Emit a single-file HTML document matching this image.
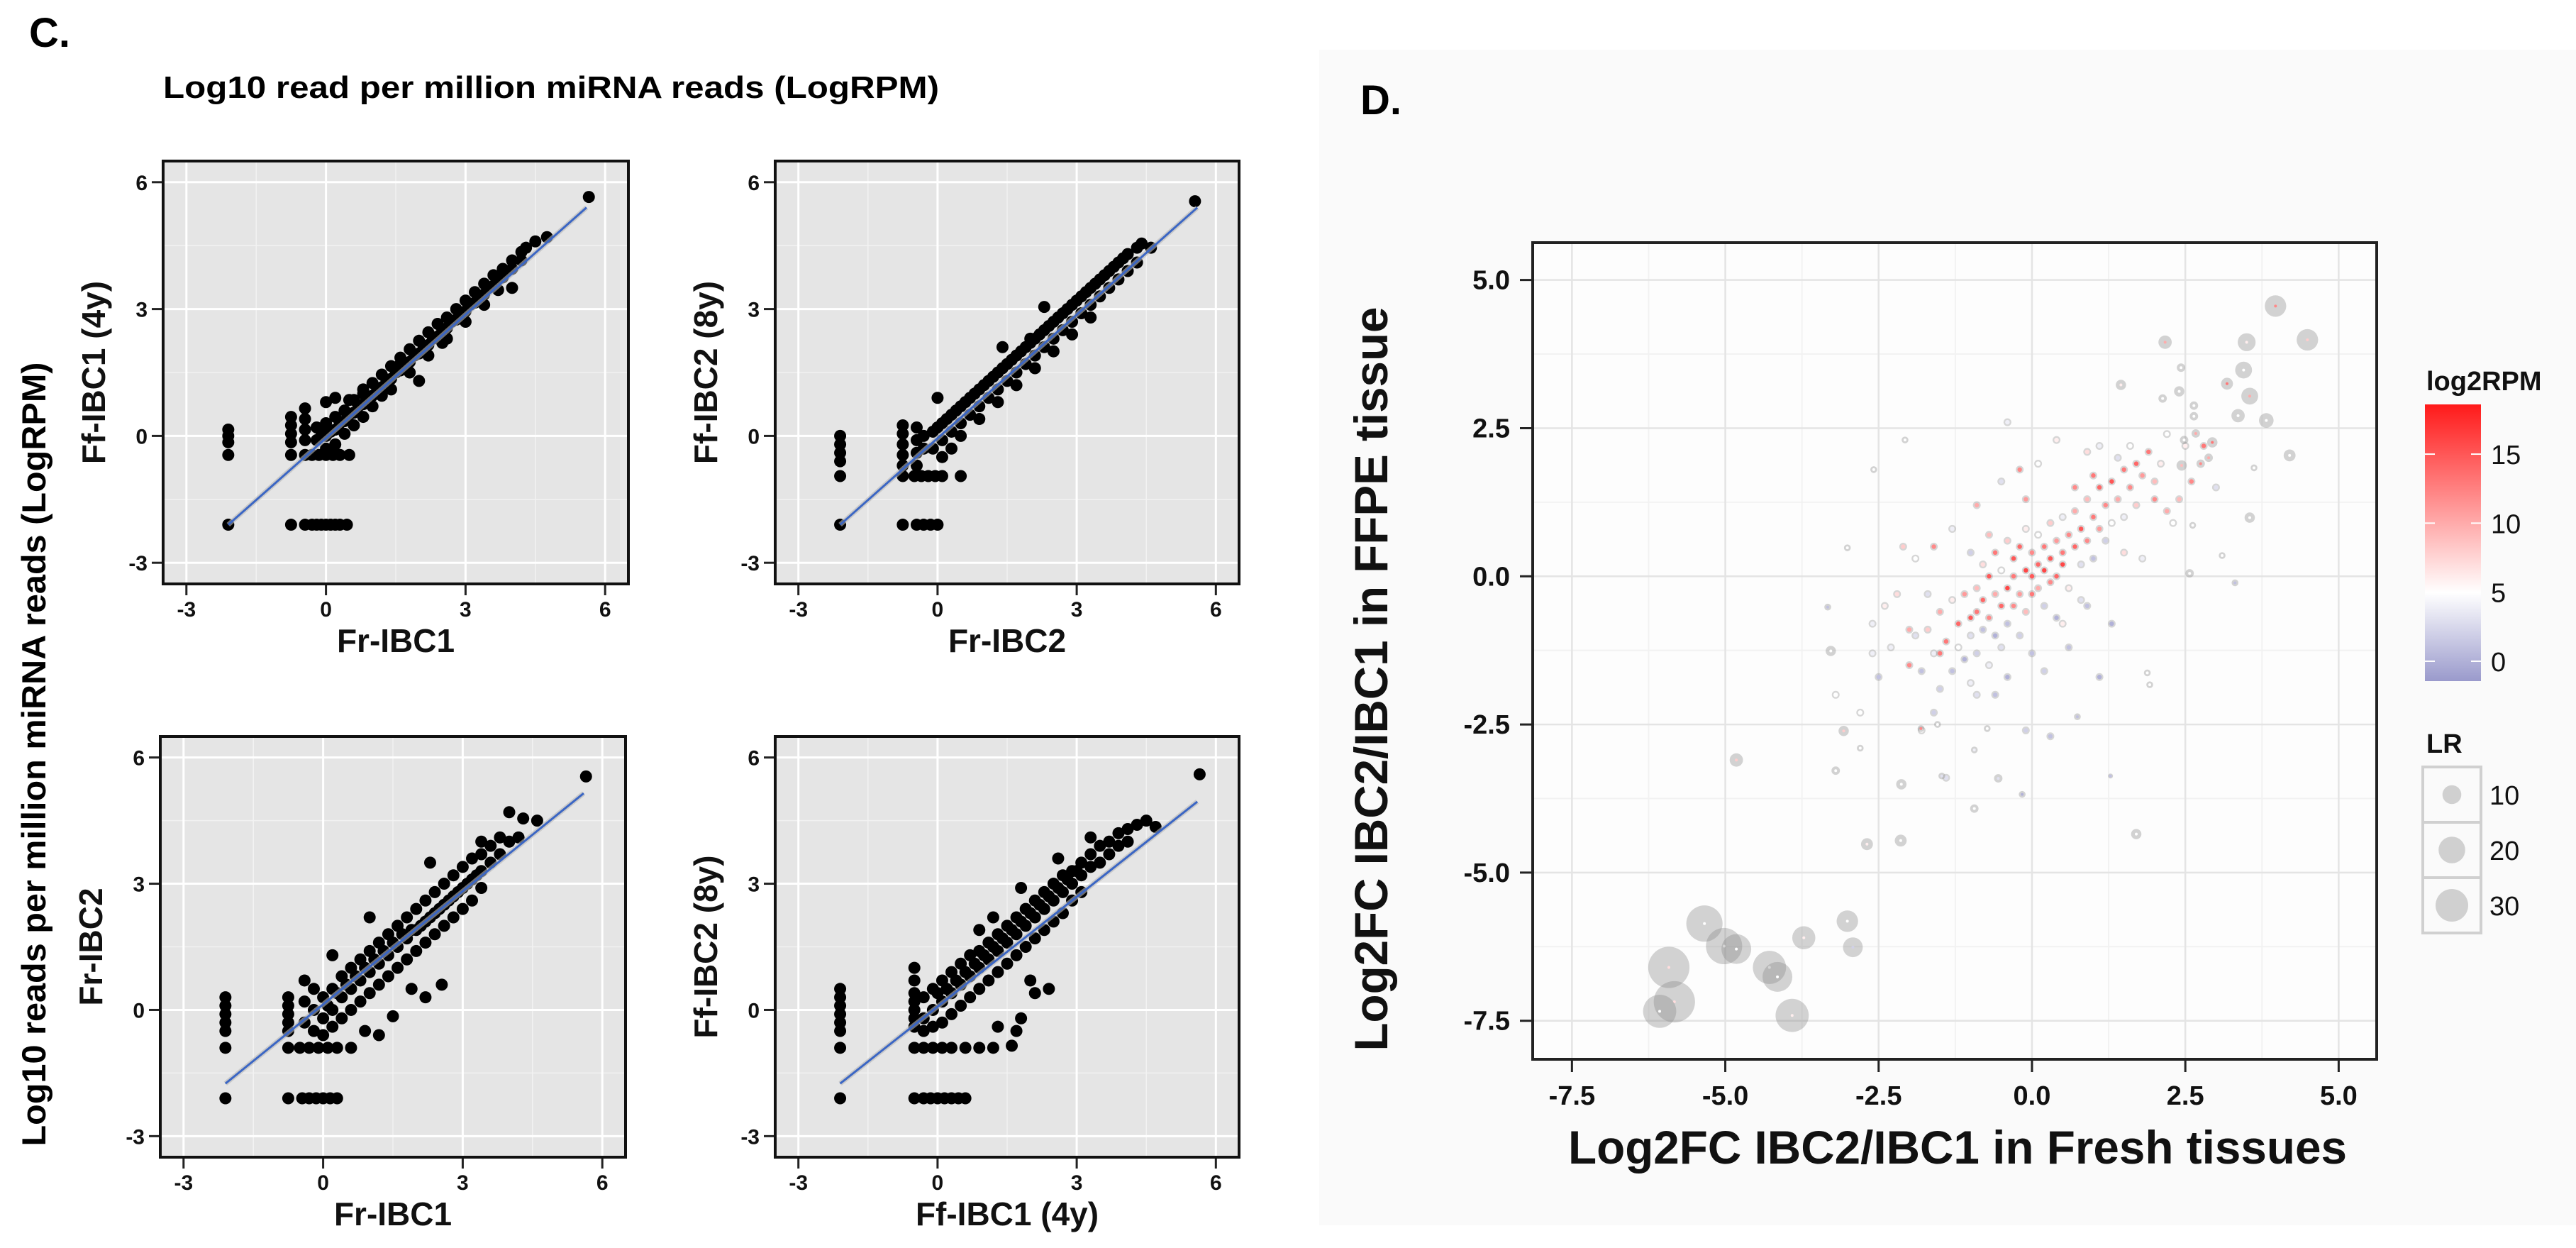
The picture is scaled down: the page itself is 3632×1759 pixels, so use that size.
<!DOCTYPE html>
<html><head><meta charset="utf-8"><style>
html,body{margin:0;padding:0;background:#fff;}
svg{display:block;font-family:"Liberation Sans",sans-serif;font-weight:bold;}
</style></head><body>
<svg id="fig" width="3632" height="1759" viewBox="0 0 3632 1759" xmlns="http://www.w3.org/2000/svg">
<rect x="0" y="0" width="3632" height="1759" fill="#ffffff"/>
<rect x="1860" y="70" width="1772" height="1657" fill="#fafafa"/>
<text x="41" y="66" font-size="58">C.</text>
<text x="230" y="138" font-size="44" textLength="1094" lengthAdjust="spacingAndGlyphs">Log10 read per million miRNA reads (LogRPM)</text>
<text transform="translate(64,1063) rotate(-90)" text-anchor="middle" font-size="47" textLength="1105" lengthAdjust="spacingAndGlyphs">Log10 reads per million miRNA reads (LogRPM)</text>
<text x="1918" y="161" font-size="58">D.</text>
<g id="cpanels"></g>
<g id="dpanel"></g>
</svg>
<script>
// ---------- Panel C data ----------
const cTicks = [-3, 0, 3, 6];
const cTickLabels = ["-3", "0", "3", "6"];
const cXTitles = ["Fr-IBC1", "Fr-IBC2", "Fr-IBC1", "Ff-IBC1 (4y)"];
const cYTitles = ["Ff-IBC1 (4y)", "Ff-IBC2 (8y)", "Fr-IBC2", "Ff-IBC2 (8y)"];
const cFits = [[-2.1,-2.1,5.6,5.4],[-2.1,-2.1,5.6,5.4],[-2.1,-1.75,5.6,5.15],[-2.1,-1.75,5.6,4.95]];
const p1Points = [[-2.1,0.15],[-2.1,0],[-2.1,-0.15],[-2.1,-0.45],[-2.1,-2.1],[-0.75,0.45],[-0.75,0.25],[-0.75,0.05],[-0.75,-0.15],[-0.75,-0.45],[-0.75,-2.1],[-0.45,0.65],[-0.45,0.4],[-0.45,0.15],[-0.45,-0.1],[-0.45,-0.45],[-0.3,-0.45],[-0.15,-0.45],[0,-0.45],[0.15,-0.45],[0.3,-0.45],[0.5,-0.45],[-0.45,-2.1],[-0.3,-2.1],[-0.2,-2.1],[-0.1,-2.1],[0,-2.1],[0.1,-2.1],[0.2,-2.1],[0.3,-2.1],[0.45,-2.1],[5.65,5.65],[4.75,4.7],[4.5,4.6],[4.3,4.45],[1.6,1.7],[1.2,0.95],[2.0,1.3],[2.5,2.2],[3.7,3.45],[4.0,3.5],[0.8,1.1],[0.5,0.85],[0,0.8],[0.2,0.9],[-0.2,-0.1],[-0.2,0.2],[0,0],[0,0.3],[0,-0.3],[0.2,0.15],[0.2,0.45],[0.2,-0.2],[0.4,0.35],[0.4,0.6],[0.4,0.05],[0.6,0.55],[0.6,0.85],[0.6,0.25],[0.8,0.75],[0.8,1.0],[0.8,0.45],[1.0,0.95],[1.0,1.25],[1.0,0.7],[1.2,1.15],[1.2,1.45],[1.4,1.35],[1.4,1.65],[1.4,1.1],[1.6,1.55],[1.6,1.85],[1.8,1.75],[1.8,2.05],[1.8,1.5],[2.0,1.95],[2.0,2.25],[2.2,2.15],[2.2,2.45],[2.2,1.9],[2.4,2.35],[2.4,2.65],[2.6,2.55],[2.6,2.8],[2.6,2.3],[2.8,2.75],[2.8,3.0],[3.0,2.95],[3.0,3.2],[3.0,2.7],[3.2,3.15],[3.2,3.4],[3.4,3.35],[3.4,3.6],[3.4,3.1],[3.6,3.55],[3.6,3.8],[3.8,3.75],[3.8,3.95],[4.0,3.95],[4.0,4.15],[4.2,4.15],[4.2,4.35],[-0.1,0.1],[0.1,0.1],[0.3,0.3],[0.5,0.5],[0.7,0.7],[0.9,0.9],[1.1,1.1],[1.3,1.3],[1.5,1.5],[1.7,1.7],[1.9,1.9],[2.1,2.1],[2.3,2.3],[2.5,2.5],[2.7,2.7],[2.9,2.9],[3.1,3.1],[3.3,3.3],[3.5,3.5],[3.7,3.7],[3.9,3.9]];
const p2Points = [[-2.1,0],[-2.1,-0.2],[-2.1,-0.4],[-2.1,-0.6],[-2.1,-0.95],[-2.1,-2.1],[-0.75,0.25],[-0.75,0.05],[-0.75,-0.2],[-0.75,-0.45],[-0.75,-0.7],[-0.75,-0.95],[-0.75,-2.1],[-0.5,-0.95],[-0.35,-0.95],[-0.2,-0.95],[-0.05,-0.95],[0.1,-0.95],[0.5,-0.95],[-0.45,-2.1],[-0.3,-2.1],[-0.15,-2.1],[0,-2.1],[-0.45,0.2],[-0.45,-0.1],[-0.45,-0.4],[-0.45,-0.7],[5.55,5.55],[4.6,4.45],[4.4,4.55],[2.3,3.05],[0,0.9],[1.4,2.1],[2.0,2.3],[-0.3,0],[-0.3,-0.3],[-0.1,0.1],[-0.1,-0.3],[0.1,0.3],[0.1,-0.1],[0.1,-0.5],[0.3,0.5],[0.3,0.1],[0.3,-0.3],[0.5,0.7],[0.5,0.3],[0.5,0],[0.7,0.9],[0.7,0.5],[0.9,1.1],[0.9,0.7],[0.9,0.4],[1.1,1.3],[1.1,0.9],[1.3,1.5],[1.3,1.1],[1.3,0.8],[1.5,1.7],[1.5,1.3],[1.7,1.9],[1.7,1.5],[1.7,1.2],[1.9,2.1],[1.9,1.7],[2.1,2.3],[2.1,1.9],[2.1,1.6],[2.3,2.5],[2.3,2.1],[2.5,2.7],[2.5,2.3],[2.5,2.0],[2.7,2.9],[2.7,2.5],[2.9,3.1],[2.9,2.7],[2.9,2.4],[3.1,3.3],[3.1,2.9],[3.3,3.5],[3.3,3.1],[3.3,2.8],[3.5,3.7],[3.5,3.3],[3.7,3.9],[3.7,3.5],[3.9,4.1],[3.9,3.7],[4.1,4.3],[4.1,3.9],[4.3,4.45],[4.3,4.1],[0,0.2],[0.2,0.4],[0.4,0.6],[0.6,0.8],[0.8,1.0],[1.0,1.2],[1.2,1.4],[1.4,1.6],[1.6,1.8],[1.8,2.0],[2.0,2.2],[2.2,2.4],[2.4,2.6],[2.6,2.8],[2.8,3.0],[3.0,3.2],[3.2,3.4],[3.4,3.6],[3.6,3.8],[3.8,4.0],[4.0,4.2]];
const p3Points = [[-2.1,0.3],[-2.1,0.1],[-2.1,-0.1],[-2.1,-0.3],[-2.1,-0.5],[-2.1,-0.9],[-2.1,-2.1],[-0.75,0.3],[-0.75,0.1],[-0.75,-0.1],[-0.75,-0.3],[-0.75,-0.5],[-0.75,-0.9],[-0.75,-2.1],[-0.5,-0.9],[-0.3,-0.9],[-0.1,-0.9],[0.1,-0.9],[0.3,-0.9],[0.6,-0.9],[-0.45,-2.1],[-0.3,-2.1],[-0.15,-2.1],[0,-2.1],[0.15,-2.1],[0.3,-2.1],[5.65,5.55],[4.0,4.7],[4.3,4.55],[4.6,4.5],[2.55,0.6],[1.5,-0.15],[2.2,0.3],[1.9,0.5],[1.2,-0.6],[0.9,-0.5],[-0.4,0.7],[0.2,1.3],[1.0,2.2],[2.3,3.5],[3.4,4.0],[-0.4,0.2],[-0.4,-0.3],[-0.2,0],[-0.2,-0.5],[-0.2,0.5],[0,0.3],[0,-0.2],[0,-0.6],[0.2,0.5],[0.2,0],[0.2,-0.4],[0.4,0.8],[0.4,0.3],[0.4,-0.2],[0.6,1.0],[0.6,0.5],[0.6,0],[0.8,1.2],[0.8,0.7],[0.8,0.2],[1.0,1.4],[1.0,0.9],[1.0,0.4],[1.2,1.6],[1.2,1.1],[1.2,0.6],[1.4,1.8],[1.4,1.3],[1.4,0.8],[1.6,2.0],[1.6,1.5],[1.6,1.0],[1.8,2.2],[1.8,1.7],[1.8,1.2],[2.0,2.4],[2.0,1.9],[2.0,1.4],[2.2,2.6],[2.2,2.1],[2.2,1.6],[2.4,2.8],[2.4,2.3],[2.4,1.8],[2.6,3.0],[2.6,2.5],[2.6,2.0],[2.8,3.2],[2.8,2.7],[2.8,2.2],[3.0,3.4],[3.0,2.9],[3.0,2.4],[3.2,3.6],[3.2,3.1],[3.2,2.6],[3.4,3.7],[3.4,3.3],[3.4,2.9],[3.6,3.9],[3.6,3.5],[3.8,4.1],[3.8,3.7],[4.0,4.0],[4.2,4.1],[0.1,0.1],[0.3,0.4],[0.5,0.6],[0.7,0.8],[0.9,1.0],[1.1,1.2],[1.3,1.4],[1.5,1.6],[1.7,1.8],[1.9,1.9],[2.1,2.0],[2.3,2.2],[2.5,2.4],[2.7,2.6],[2.9,2.8],[3.1,3.0],[3.3,3.2]];
const p4Points = [[-2.1,0.5],[-2.1,0.3],[-2.1,0.1],[-2.1,-0.1],[-2.1,-0.3],[-2.1,-0.5],[-2.1,-0.9],[-2.1,-2.1],[-0.5,1.0],[-0.5,0.7],[-0.5,0.4],[-0.5,0.2],[-0.5,0],[-0.5,-0.2],[-0.5,-0.4],[-0.5,-0.9],[-0.5,-2.1],[-0.3,-0.9],[-0.1,-0.9],[0.1,-0.9],[0.3,-0.9],[0.6,-0.9],[0.9,-0.9],[1.2,-0.9],[-0.3,-2.1],[-0.15,-2.1],[0,-2.1],[0.15,-2.1],[0.3,-2.1],[0.45,-2.1],[0.6,-2.1],[5.65,5.6],[4.5,4.5],[4.7,4.35],[2.0,0.7],[2.4,0.5],[1.7,-0.5],[1.8,-0.2],[1.6,-0.85],[2.1,0.4],[1.3,-0.4],[1.2,2.2],[0.9,1.9],[1.8,2.9],[2.6,3.6],[3.3,4.1],[-0.3,0.3],[-0.3,-0.2],[-0.3,-0.5],[-0.1,0.5],[-0.1,0],[-0.1,-0.4],[0.1,0.7],[0.1,0.2],[0.1,-0.3],[0.3,0.9],[0.3,0.4],[0.3,-0.1],[0.5,1.1],[0.5,0.6],[0.5,0.1],[0.7,1.3],[0.7,0.8],[0.7,0.3],[0.9,1.4],[0.9,1.0],[0.9,0.5],[1.1,1.6],[1.1,1.2],[1.1,0.7],[1.3,1.8],[1.3,1.4],[1.3,0.9],[1.5,2.0],[1.5,1.6],[1.5,1.1],[1.7,2.2],[1.7,1.8],[1.7,1.3],[1.9,2.4],[1.9,2.0],[1.9,1.5],[2.1,2.6],[2.1,2.2],[2.1,1.7],[2.3,2.8],[2.3,2.4],[2.3,1.9],[2.5,3.0],[2.5,2.6],[2.5,2.1],[2.7,3.2],[2.7,2.8],[2.7,2.3],[2.9,3.3],[2.9,3.0],[2.9,2.6],[3.1,3.5],[3.1,3.2],[3.1,2.8],[3.3,3.7],[3.3,3.4],[3.5,3.9],[3.5,3.5],[3.7,4.0],[3.7,3.7],[3.9,4.2],[3.9,3.9],[4.1,4.3],[4.1,4.0],[4.3,4.4],[0,0.4],[0.2,0.5],[0.4,0.7],[0.6,0.9],[0.8,1.1],[1.0,1.3],[1.2,1.5],[1.4,1.7],[1.6,1.9],[1.8,2.1],[2.0,2.3],[2.2,2.5],[2.4,2.7],[2.6,2.9],[2.8,3.1],[3.0,3.3]];
const cPoints = [p1Points, p2Points, p3Points, p4Points];
const cBoxes = [[230,227,886,823],[1093,227,1747,823],[226,1038,882,1631],[1093,1038,1747,1631]];

// ---------- Panel D data ----------
const dTicks = [-7.5, -5, -2.5, 0, 2.5, 5];
const dTickLabels = ["-7.5", "-5.0", "-2.5", "0.0", "2.5", "5.0"];
const bigX = [-5.34,-5.02,-4.82,-5.92,-5.83,-6.07,-4.28,-4.15,-3.91,-3.72,-3.01,-2.92,-4.82,-2.69,-2.14,-2.13,-3.28,-3.07,-3.2,1.7,-0.94,-0.55,2.17,1.45,3.97,4.49,3.5,3.45,3.55,3.18,3.36,3.82,4.2,3.55,2.43,2.4,2.13,2.64,2.64,2.67,2.88,2.94,2.75,2.44,2.48,3.62,-2.07,-2.58,-3.01,-3.33,2.62,3.1,3.31,2.57,1.88,1.92,-2.8,0.74,-0.16,1.28,-1.47,-1.81,-1.54,-0.73,-0.94];
const bigY = [-5.86,-6.24,-6.29,-6.6,-7.18,-7.34,-6.6,-6.76,-7.41,-6.1,-5.82,-6.26,-3.1,-4.52,-4.46,-3.51,-1.26,-2.61,-3.28,-4.35,-3.92,-3.41,3.95,3.23,4.56,3.99,3.95,3.48,3.04,3.25,2.71,2.63,2.04,0.99,3.52,3.12,3.0,2.88,2.7,2.41,2.0,2.26,1.9,1.87,2.3,1.83,2.3,1.8,0.48,-0.52,0.86,0.35,-0.11,0.05,-1.63,-1.83,-2.9,-2.37,-3.68,-3.37,-3.37,-2.57,-2.5,-2.57,-2.93];
const bigLR = [37,37,25,48,48,31,31,25,31,15,13,11,5,4,4,3,3,3,2,3,2,2,5,3,13,13,9,8,8,4,5,6,4,3,2,3,2,2,2,2,2,3,2,3,2,1.3,1.3,1.3,1.3,1.3,1.3,1.3,1.3,2,1.3,1.3,1.3,1.3,1.3,0.7,1.3,1.3,1.3,1.3,1.3];
const bigRPM = [5,5,5,7,7,5,5,5,6,6,5,2,8,6,5,5,5,8,5,5,5,3,10,6,12,8,6,5,10,13,5,5,5,5,5,5,5,5,5,10,10,13,12,9,5,5,5,5,5,1,5,5,1,5,5,5,5,1,0,1,3,12,5,5,4];
const dotX = [-2.0,-1.9,-1.8,-1.7,-1.6,-1.5,-1.5,-1.4,-1.3,-1.3,-1.2,-1.2,-1.1,-1.1,-1.0,-1.0,-0.9,-0.9,-0.9,-0.8,-0.8,-0.8,-0.7,-0.7,-0.7,-0.6,-0.6,-0.6,-0.5,-0.5,-0.5,-0.4,-0.4,-0.4,-0.3,-0.3,-0.3,-0.2,-0.2,-0.2,-0.1,-0.1,-0.1,0.0,0.0,0.0,0.0,0.1,0.1,0.1,0.2,0.2,0.2,0.3,0.3,0.3,0.4,0.4,0.4,0.5,0.5,0.5,0.6,0.6,0.7,0.7,0.8,0.8,0.9,0.9,1.0,1.0,1.1,1.1,1.2,1.3,1.3,1.4,1.5,1.5,1.6,1.7,1.7,1.8,1.9,2.0,2.0,2.1,2.2,1.6,1.4,1.2,0.9,1.3,1.1,0.6,0.2,-0.4,-0.9,-1.6,-2.3,-2.4,-2.1,-1.9,-1.6,-1.3,-0.9,-0.5,-0.2,0.1,-0.4,0.4,0.7,0.9,1.1,1.0,-0.1,-0.7,-1.0,-1.7,-2.2,-2.0,-2.5,-1.8,-2.6,-1.5,-1.0,0.5,0.8,1.5,1.8,2.3,2.4,2.6,2.2,2.5,2.8,3.0,-0.6,0.3,-0.1,-1.4,-2.8,-2.6,-3.2];
const dotY = [-1.5,-1.0,-1.6,-0.9,-1.3,-0.6,-1.9,-1.1,-0.4,-1.6,-0.8,-1.2,-0.3,-1.4,-0.7,-1.0,-0.2,-1.3,-0.6,-0.9,-0.4,0.2,-0.7,-1.5,0.0,-0.3,-1.0,0.4,-0.5,0.1,-1.2,-0.2,0.6,-0.8,0.0,-0.5,0.3,-0.3,0.5,-1.0,0.1,-0.6,0.8,0.0,-0.3,0.4,-1.3,0.2,-0.2,0.7,0.1,0.5,-0.5,0.3,-0.1,0.9,0.0,0.6,-0.7,0.4,0.2,1.0,0.7,-0.2,0.5,1.1,0.8,0.2,0.6,1.3,1.0,0.3,0.8,1.5,1.2,0.9,1.6,1.3,1.8,1.0,1.5,1.9,1.2,1.7,2.1,1.6,1.3,1.9,1.1,2.2,2.0,0.6,-0.5,-0.8,-1.7,-1.2,-1.6,-1.7,-2.0,-2.3,-1.2,-0.5,0.5,0.3,0.5,0.8,1.2,1.6,1.8,1.9,2.6,2.3,1.5,2.1,2.2,1.7,1.3,0.7,0.4,-0.3,-0.3,-0.9,-1.7,-2.6,-1.3,-1.3,-1.8,-0.8,-0.4,0.4,0.3,0.9,1.3,1.6,2.4,2.2,2.2,1.5,-2.0,-2.7,-2.6,-3.4,-2.3,-0.8,-2.0];
const dotRPM = [12,3,1,8,4,10,2,13,6,1,14,5,11,0,15,3,9,2,13,1,14,7,12,4,15,10,0,13,14,5,3,16,8,1,13,12,15,11,14,2,16,9,6,15,13,12,1,14,10,5,16,13,2,15,12,8,14,11,0,13,16,4,12,6,14,10,15,3,12,9,13,1,11,14,12,5,15,10,13,4,12,14,8,11,13,9,12,6,10,5,3,2,1,0,0,1,2,0,3,2,4,6,8,5,12,4,10,3,12,5,4,6,12,7,4,13,11,9,2,3,7,10,1,5,4,13,4,6,3,7,4,5,9,12,5,6,13,3,1,1,2,3,5,4,5];
const legendLR = [10, 20, 30];
const legendRPMTicks = [15, 10, 5, 0];

// ---------- helpers ----------
const NS = "http://www.w3.org/2000/svg";
function mk(tag, attrs, parent) {
  const e = document.createElementNS(NS, tag);
  for (const k in attrs) e.setAttribute(k, attrs[k]);
  parent.appendChild(e);
  return e;
}

// ---------- Panel C ----------
const cg = document.getElementById("cpanels");
const CMIN = -3.5, CMAX = 6.5;
cBoxes.forEach(function (b, i) {
  const g = mk("g", {}, cg);
  
  
  const sx = v => b[0] + (v - CMIN) / (CMAX - CMIN) * (b[2] - b[0]);
  const sy = v => b[3] - (v - CMIN) / (CMAX - CMIN) * (b[3] - b[1]);
  const bg = mk("rect", {x: b[0], y: b[1], width: b[2] - b[0], height: b[3] - b[1], fill: "#e5e5e5"}, g);
  
  
  [-1.5, 1.5, 4.5].forEach(function (m) {
    const l1 = mk("line", {x1: sx(m), x2: sx(m), y1: b[1], y2: b[3], stroke: "#f2f2f2", "stroke-width": 1.5}, g);
    
    
    const l2 = mk("line", {x1: b[0], x2: b[2], y1: sy(m), y2: sy(m), stroke: "#f2f2f2", "stroke-width": 1.5}, g);
    
    
  });
  cTicks.forEach(function (t, k) {
    const gx = mk("line", {x1: sx(t), x2: sx(t), y1: b[1], y2: b[3], stroke: "#ffffff", "stroke-width": 3}, g);
    
    
    const gy = mk("line", {x1: b[0], x2: b[2], y1: sy(t), y2: sy(t), stroke: "#ffffff", "stroke-width": 3}, g);
    
    
    const tx = mk("line", {x1: sx(t), x2: sx(t), y1: b[3], y2: b[3] + 16, stroke: "#222", "stroke-width": 3}, g);
    
    
    const ty = mk("line", {x1: b[0] - 16, x2: b[0], y1: sy(t), y2: sy(t), stroke: "#222", "stroke-width": 3}, g);
    
    
    const lx = mk("text", {x: sx(t), y: b[3] + 46, "font-size": 30, "text-anchor": "middle", fill: "#111"}, g);
    lx.textContent = cTickLabels[k];
    
    
    const ly = mk("text", {x: b[0] - 22, y: sy(t) + 11, "font-size": 30, "text-anchor": "end", fill: "#111"}, g);
    ly.textContent = cTickLabels[k];
    
    
  });
  cPoints[i].forEach(function (p) {
    const c = mk("circle", {cx: sx(p[0]), cy: sy(p[1]), r: 8.5, fill: "#000"}, g);
    
    
  });
  const f = cFits[i];
  const band = mk("line", {x1: sx(f[0]), y1: sy(f[1]), x2: sx(f[2]), y2: sy(f[3]), stroke: "#b8b8b8", "stroke-width": 7, opacity: 0.6}, g);
  
  
  const fit = mk("line", {x1: sx(f[0]), y1: sy(f[1]), x2: sx(f[2]), y2: sy(f[3]), stroke: "#3b66c4", "stroke-width": 3}, g);
  
  
  const fr = mk("rect", {x: b[0], y: b[1], width: b[2] - b[0], height: b[3] - b[1], fill: "none", stroke: "#111", "stroke-width": 4}, g);
  
  
  const xt = mk("text", {x: (b[0] + b[2]) / 2, y: b[3] + 96, "font-size": 46, "text-anchor": "middle", fill: "#111"}, g);
  xt.textContent = cXTitles[i];
  
  
  const yt = mk("text", {transform: "translate(" + (b[0] - 82) + "," + ((b[1] + b[3]) / 2) + ") rotate(-90)", "font-size": 46, "text-anchor": "middle", fill: "#111"}, g);
  yt.textContent = cYTitles[i];
  
  
});

// ---------- Panel D ----------
const dg = document.getElementById("dpanel");
const DB = [2161, 342, 3351, 1493];
const DXMIN = -8.14, DXMAX = 5.62, DYMIN = -8.15, DYMAX = 5.63;
const dx = v => DB[0] + (v - DXMIN) / (DXMAX - DXMIN) * (DB[2] - DB[0]);
const dy = v => DB[3] - (v - DYMIN) / (DYMAX - DYMIN) * (DB[3] - DB[1]);
const rScale = lr => 4.2 * Math.sqrt(lr);
function rpmColor(v) {
  let r, g, b;
  if (v >= 5) { const t = Math.min(1, (v - 5) / 13.6); r = 255; g = Math.round(255 - t * 229); b = Math.round(255 - t * 229); }
  else { const t = Math.min(1, (5 - v) / 6.5); r = Math.round(255 - t * 101); g = Math.round(255 - t * 101); b = Math.round(255 - t * 51); }
  return "rgb(" + r + "," + g + "," + b + ")";
}
const pbg = mk("rect", {x: DB[0], y: DB[1], width: DB[2] - DB[0], height: DB[3] - DB[1], fill: "#fdfdfd"}, dg);


[-6.25, -3.75, -1.25, 1.25, 3.75].forEach(function (m) {
  const a = mk("line", {x1: dx(m), x2: dx(m), y1: DB[1], y2: DB[3], stroke: "#f2f2f2", "stroke-width": 2}, dg);
  
  
  const c = mk("line", {x1: DB[0], x2: DB[2], y1: dy(m), y2: dy(m), stroke: "#f2f2f2", "stroke-width": 2}, dg);
  
  
});
dTicks.forEach(function (t, k) {
  const a = mk("line", {x1: dx(t), x2: dx(t), y1: DB[1], y2: DB[3], stroke: "#e4e4e4", "stroke-width": 2.5}, dg);
  
  
  const c = mk("line", {x1: DB[0], x2: DB[2], y1: dy(t), y2: dy(t), stroke: "#e4e4e4", "stroke-width": 2.5}, dg);
  
  
  const tx = mk("line", {x1: dx(t), x2: dx(t), y1: DB[3], y2: DB[3] + 18, stroke: "#222", "stroke-width": 3}, dg);
  
  
  const ty = mk("line", {x1: DB[0] - 18, x2: DB[0], y1: dy(t), y2: dy(t), stroke: "#222", "stroke-width": 3}, dg);
  
  
  const lx = mk("text", {x: dx(t), y: DB[3] + 64, "font-size": 38, "text-anchor": "middle", fill: "#111"}, dg);
  lx.textContent = dTickLabels[k];
  
  
  const ly = mk("text", {x: DB[0] - 32, y: dy(t) + 13, "font-size": 38, "text-anchor": "end", fill: "#111"}, dg);
  ly.textContent = dTickLabels[k];
  
  
});
dotX.forEach(function (x, i) {
  const c = mk("circle", {cx: dx(x), cy: dy(dotY[i]), r: 5.5, fill: "rgba(140,140,140,0.35)"}, dg);
  
  
  const d = mk("circle", {cx: dx(x), cy: dy(dotY[i]), r: 3.2, fill: rpmColor(dotRPM[i])}, dg);
  
  
});
bigX.forEach(function (x, i) {
  const c = mk("circle", {cx: dx(x), cy: dy(bigY[i]), r: rScale(bigLR[i]), fill: "rgba(140,140,140,0.38)"}, dg);
  
  
  const d = mk("circle", {cx: dx(x), cy: dy(bigY[i]), r: 2, fill: rpmColor(bigRPM[i])}, dg);
  
  
});
const dfr = mk("rect", {x: DB[0], y: DB[1], width: DB[2] - DB[0], height: DB[3] - DB[1], fill: "none", stroke: "#222", "stroke-width": 4}, dg);


const dxt = mk("text", {x: 2760, y: 1640, "font-size": 66, "text-anchor": "middle", fill: "#111", textLength: 1098, lengthAdjust: "spacingAndGlyphs"}, dg);
dxt.textContent = "Log2FC IBC2/IBC1 in Fresh tissues";


const dyt = mk("text", {transform: "translate(1956,957) rotate(-90)", "font-size": 66, "text-anchor": "middle", fill: "#111", textLength: 1049, lengthAdjust: "spacingAndGlyphs"}, dg);
dyt.textContent = "Log2FC IBC2/IBC1 in FFPE tissue";



// colour legend
const defs = mk("defs", {}, dg);
const grad = mk("linearGradient", {id: "rpmgrad", x1: 0, y1: 0, x2: 0, y2: 1}, defs);
mk("stop", {offset: "0", "stop-color": "#ff1a1a"}, grad);
mk("stop", {offset: "0.68", "stop-color": "#ffffff"}, grad);
mk("stop", {offset: "1", "stop-color": "#9a9acc"}, grad);
const lt = mk("text", {x: 3421, y: 550, "font-size": 38, fill: "#111"}, dg);
lt.textContent = "log2RPM";


const CB = [3419, 570, 3498, 960], CBMIN = -1.44, CBMAX = 18.6;
const cbar = mk("rect", {x: CB[0], y: CB[1], width: CB[2] - CB[0], height: CB[3] - CB[1], fill: "url(#rpmgrad)"}, dg);


legendRPMTicks.forEach(function (v) {
  const yy = CB[3] - (v - CBMIN) / (CBMAX - CBMIN) * (CB[3] - CB[1]);
  const t1 = mk("line", {x1: CB[0], x2: CB[0] + 14, y1: yy, y2: yy, stroke: "#fff", "stroke-width": 2}, dg);
  
  
  const t2 = mk("line", {x1: CB[2] - 14, x2: CB[2], y1: yy, y2: yy, stroke: "#fff", "stroke-width": 2}, dg);
  
  
  const tl = mk("text", {x: 3512, y: yy + 14, "font-size": 38, "font-weight": "normal", fill: "#111"}, dg);
  tl.textContent = String(v);
  
  
});
// size legend
const st = mk("text", {x: 3421, y: 1061, "font-size": 38, fill: "#111"}, dg);
st.textContent = "LR";


legendLR.forEach(function (v, k) {
  const y0 = 1081 + k * 78;
  const box = mk("rect", {x: 3416, y: y0, width: 82, height: 78, fill: "#fafafa", stroke: "#d0d0d0", "stroke-width": 4}, dg);
  
  
  const c = mk("circle", {cx: 3457, cy: y0 + 39, r: rScale(v), fill: "rgba(140,140,140,0.38)"}, dg);
  
  
  const lbl = mk("text", {x: 3510, y: y0 + 53, "font-size": 38, "font-weight": "normal", fill: "#111"}, dg);
  lbl.textContent = String(v);
  
  
});
</script>
</body></html>
